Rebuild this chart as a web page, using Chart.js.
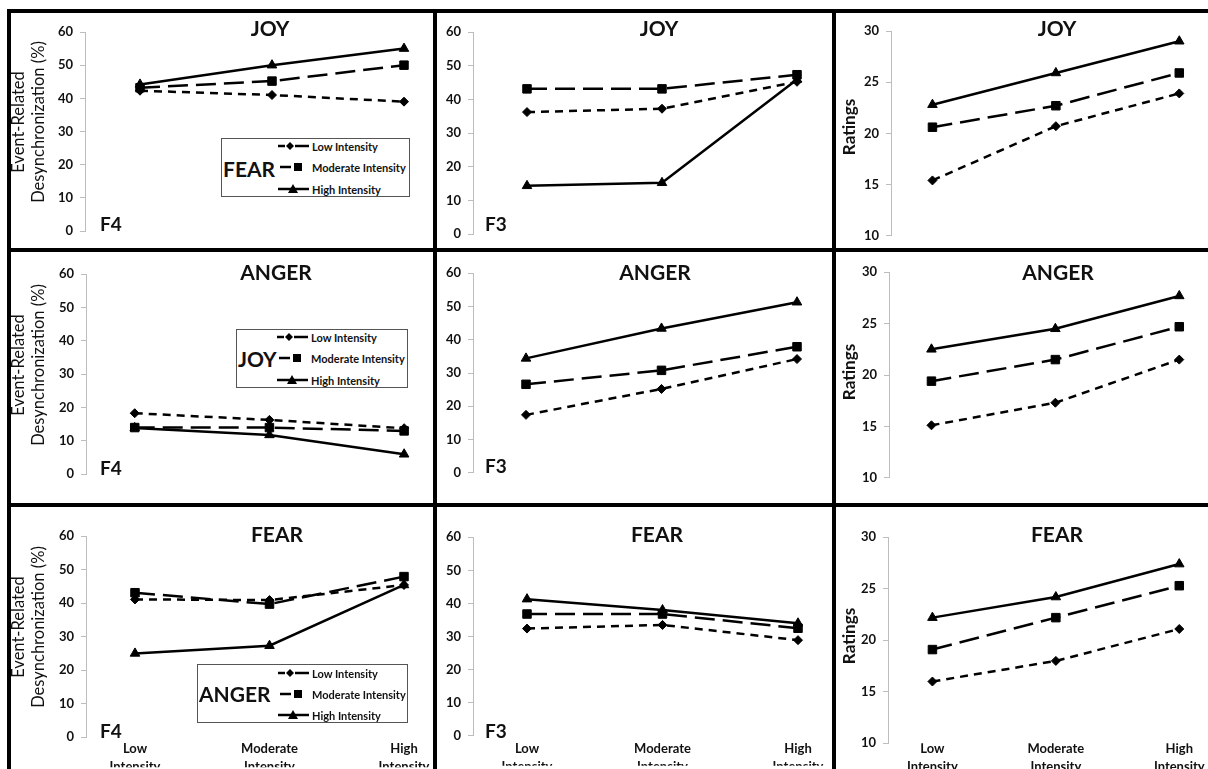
<!DOCTYPE html>
<html><head><meta charset="utf-8">
<script src="https://cdn.jsdelivr.net/npm/chart.js@4.4.1/dist/chart.umd.min.js"></script>
<style>
html,body{margin:0;padding:0;background:#fff;}
#page{position:relative;width:1208px;height:769px;overflow:hidden;font-family:Lato,'Open Sans',sans-serif;color:#111;background:#fff;}
.bar{position:absolute;background:#000;z-index:5;}
canvas{position:absolute;}
.ttl{position:absolute;font-weight:bold;font-size:21px;line-height:1;transform:translate(-50%,-50%);white-space:nowrap;z-index:3;}
.flab{position:absolute;font-weight:bold;font-size:19px;line-height:1;transform:translateY(-50%);z-index:3;}
.ytitle{position:absolute;transform:translate(-50%,-50%) rotate(-90deg);white-space:nowrap;text-align:center;z-index:3;}
.legbox{position:absolute;border:1px solid #555;background:#fff;box-sizing:border-box;z-index:3;}
.legword{position:absolute;font-weight:bold;font-size:21px;line-height:1;transform:translateY(-50%);z-index:4;}
.legtxt{position:absolute;font-weight:bold;font-size:11px;line-height:1;transform:translateY(-50%);white-space:nowrap;z-index:4;}
.legsvg{position:absolute;z-index:4;}
</style>
</head><body>
<div id="page"></div>
<script>
// ---------- DATA ----------
const categories = ['Low Intensity', 'Moderate Intensity', 'High Intensity'];
const seriesNames = ['Low Intensity', 'Moderate Intensity', 'High Intensity'];
const erdTicks = [0, 10, 20, 30, 40, 50, 60];
const ratingTicks = [10, 15, 20, 25, 30];

// Row 1: JOY
const joyF4Low  = [42.3, 41.0, 39.0];
const joyF4Mod  = [43.2, 45.2, 50.0];
const joyF4High = [44.2, 50.0, 55.0];
const joyF3Low  = [36.3, 37.3, 45.3];
const joyF3Mod  = [43.2, 43.2, 47.4];
const joyF3High = [14.4, 15.3, 46.0];
const joyRatLow  = [15.4, 20.7, 23.9];
const joyRatMod  = [20.6, 22.7, 25.9];
const joyRatHigh = [22.8, 25.9, 29.0];

// Row 2: ANGER
const angerF4Low  = [18.3, 16.3, 13.8];
const angerF4Mod  = [14.0, 14.0, 13.0];
const angerF4High = [13.9, 11.8, 6.0];
const angerF3Low  = [17.4, 25.2, 34.2];
const angerF3Mod  = [26.6, 30.8, 37.9];
const angerF3High = [34.4, 43.4, 51.3];
const angerRatLow  = [15.1, 17.3, 21.5];
const angerRatMod  = [19.4, 21.5, 24.7];
const angerRatHigh = [22.5, 24.5, 27.7];

// Row 3: FEAR
const fearF4Low  = [41.1, 40.9, 45.4];
const fearF4Mod  = [43.1, 39.7, 47.9];
const fearF4High = [25.0, 27.3, 45.4];
const fearF3Low  = [32.4, 33.5, 28.9];
const fearF3Mod  = [36.8, 36.8, 32.5];
const fearF3High = [41.3, 38.0, 34.0];
const fearRatLow  = [16.0, 18.0, 21.1];
const fearRatMod  = [19.1, 22.2, 25.3];
const fearRatHigh = [22.2, 24.2, 27.4];

const panelTitles = ['JOY', 'ANGER', 'FEAR'];
const legendWords = ['FEAR', 'JOY', 'ANGER'];
const electrodeLabels = ['F4', 'F3'];
const erdTitle = ['Event-Related', 'Desynchronization (%)'];
const ratingTitle = 'Ratings';

// ---------- LAYOUT ----------
const page = document.getElementById('page');
const FONT = "Lato, 'Open Sans', sans-serif";
const cols = [[11, 422], [437, 395], [836, 372]];
const rows = [[13, 235], [252, 251], [507, 262]];

const panels = [
  {r:0,c:0, axisX:85,  yTop:32,    yBot:231,   xLow:140, xHigh:404, scale:'erd', series:[joyF4Low, joyF4Mod, joyF4High]},
  {r:0,c:1, axisX:473, yTop:32.3,  yBot:234.3, xLow:527, xHigh:797, scale:'erd', series:[joyF3Low, joyF3Mod, joyF3High]},
  {r:0,c:2, axisX:891, yTop:31,    yBot:235.7, xLow:933, xHigh:1183, scale:'rat', series:[joyRatLow, joyRatMod, joyRatHigh]},
  {r:1,c:0, axisX:86,  yTop:274,   yBot:474.3, xLow:135, xHigh:406, scale:'erd', series:[angerF4Low, angerF4Mod, angerF4High]},
  {r:1,c:1, axisX:473, yTop:273.3, yBot:472.7, xLow:526, xHigh:797, scale:'erd', series:[angerF3Low, angerF3Mod, angerF3High]},
  {r:1,c:2, axisX:889, yTop:272.3, yBot:477.7, xLow:932, xHigh:1183, scale:'rat', series:[angerRatLow, angerRatMod, angerRatHigh]},
  {r:2,c:0, axisX:86,  yTop:536,   yBot:737.3, xLow:135, xHigh:404, scale:'erd', series:[fearF4Low, fearF4Mod, fearF4High]},
  {r:2,c:1, axisX:473, yTop:537.3, yBot:735.7, xLow:527, xHigh:798, scale:'erd', series:[fearF3Low, fearF3Mod, fearF3High]},
  {r:2,c:2, axisX:888, yTop:537.3, yBot:743.3, xLow:933, xHigh:1183, scale:'rat', series:[fearRatLow, fearRatMod, fearRatHigh]}
];

const styles = [
  {dash:[8,6],  pointStyle:'rectRot', radius:4.5},
  {dash:[20,8], pointStyle:'rect',    radius:6},
  {dash:[],     pointStyle:'triangle',radius:5.5}
];

const WY = 30;
const XLAB_CENTER = 747;   // page y of first x-label line
const XLAB_LH = 18;
panels.forEach(p => {
  const [cx, cw] = cols[p.c];
  const [cy, ch] = rows[p.r];
  const showX = p.r === 2;
  const HX = showX ? 30 : 0;
  const R = p.xHigh + 22;
  const s = (p.xHigh - p.xLow) / 2;
  const xMin = -(p.xLow - p.axisX) / s;
  const xMax = 2 + (R - p.xHigh) / s;
  const xPad = Math.round(XLAB_CENTER - p.yBot - XLAB_LH / 2 - 6);
  const cv = document.createElement('canvas');
  cv.width = cw; cv.height = ch;
  cv.style.left = cx + 'px'; cv.style.top = cy + 'px';
  cv.style.width = cw + 'px'; cv.style.height = ch + 'px';
  page.appendChild(cv);
  const ticksArr = p.scale === 'erd' ? erdTicks : ratingTicks;
  new Chart(cv.getContext('2d'), {
    type: 'line',
    data: {
      datasets: p.series.map((vals, i) => ({
        label: seriesNames[i],
        data: vals.map((v, j) => ({x: j, y: v})),
        borderColor: '#000',
        backgroundColor: '#000',
        borderWidth: 2.5,
        borderDash: styles[i].dash,
        pointStyle: styles[i].pointStyle,
        pointRadius: styles[i].radius,
        pointBackgroundColor: '#000',
        pointBorderColor: '#000',
        pointBorderWidth: 1,
        tension: 0,
        clip: false
      }))
    },
    options: {
      responsive: false,
      animation: false,
      devicePixelRatio: 1,
      events: [],
      layout: {padding: {left: p.axisX - cx - WY, top: p.yTop - cy, right: cx + cw - R, bottom: cy + ch - p.yBot - HX}},
      plugins: {legend: {display: false}, tooltip: {enabled: false}, title: {display: false}},
      scales: {
        x: {
          type: 'linear', min: xMin, max: xMax,
          grid: {display: false}, border: {display: false},
          afterBuildTicks: sc => { sc.ticks = categories.map((_, i) => ({value: i})); },
          afterFit: sc => { sc.height = HX; sc.paddingLeft = 0; sc.paddingRight = 0; },
          ticks: {
            display: showX, autoSkip: false, maxRotation: 0, minRotation: 0, padding: xPad,
            color: '#111', font: {family: FONT, weight: 'bold', size: 13, lineHeight: XLAB_LH / 13},
            callback: v => categories[Math.round(v)] ? categories[Math.round(v)].split(' ') : ''
          }
        },
        y: {
          type: 'linear', min: ticksArr[0], max: ticksArr[ticksArr.length - 1],
          afterBuildTicks: sc => { sc.ticks = ticksArr.map(v => ({value: v})); },
          afterFit: sc => { sc.width = WY; sc.paddingTop = 0; sc.paddingBottom = 0; },
          grid: {display: true, drawOnChartArea: false, drawTicks: true, tickLength: 5, color: '#bdbdbd', lineWidth: 1},
          border: {display: true, color: '#bdbdbd', width: 1},
          ticks: {padding: 7, color: '#111', font: {family: FONT, weight: 'bold', size: 13}}
        }
      }
    }
  });
});

function addDiv(cls, text, style) {
  const d = document.createElement('div');
  d.className = cls;
  if (Array.isArray(text)) d.innerHTML = text.map(t => '<div>' + t + '</div>').join('');
  else d.textContent = text;
  Object.assign(d.style, style);
  page.appendChild(d);
  return d;
}

// panel titles
const titlePos = [
  [[270,27],[659,27],[1057,27]],
  [[276,271],[655,271],[1058,271]],
  [[277,533],[657,533],[1057,533]]
];
titlePos.forEach((rowPos, r) => rowPos.forEach(([x, y]) => addDiv('ttl', panelTitles[r], {left: x + 'px', top: y + 'px'})));

// electrode labels
const fPos = [[100,223,0],[485,223,1],[100,467,0],[485,465,1],[100,730,0],[485,730,1]];
fPos.forEach(([x, y, k]) => addDiv('flab', electrodeLabels[k], {left: x + 'px', top: y + 'px'}));

// y titles
[122, 365, 627].forEach(y => addDiv('ytitle', erdTitle, {left: '28px', top: y + 'px', fontSize: '16.5px', lineHeight: '20px'}));
[127, 372, 636].forEach(y => addDiv('ytitle', ratingTitle, {left: '848px', top: y + 'px', fontSize: '17px', fontWeight: 'bold'}));

// legends
const legends = [
  {box:[221,138,189,59], wordX:223, wordY:168, rowsY:[146,167,189], sx:278, tx:312},
  {box:[236,329,172,59], wordX:238, wordY:358, rowsY:[337,358,380], sx:277, tx:311},
  {box:[197,664,211,59], wordX:199, wordY:693, rowsY:[673,694,715], sx:278, tx:312}
];
const sampleSvg = [
  '<line x1="0" y1="6" x2="7" y2="6" stroke="#000" stroke-width="2.5"/><polygon points="12,2 16,6 12,10 8,6" fill="#000"/><line x1="17" y1="6" x2="31" y2="6" stroke="#000" stroke-width="2.5"/>',
  '<line x1="2" y1="6" x2="13" y2="6" stroke="#000" stroke-width="2.5"/><rect x="16" y="2" width="8" height="8" fill="#000"/>',
  '<line x1="0" y1="6" x2="31" y2="6" stroke="#000" stroke-width="2.5"/><polygon points="15,1 20,10 10,10" fill="#000"/>'
];
legends.forEach((L, k) => {
  addDiv('legbox', '', {left: L.box[0] + 'px', top: L.box[1] + 'px', width: L.box[2] + 'px', height: L.box[3] + 'px'});
  addDiv('legword', legendWords[k], {left: L.wordX + 'px', top: L.wordY + 'px'});
  seriesNames.forEach((n, i) => {
    const sv = document.createElementNS('http://www.w3.org/2000/svg', 'svg');
    sv.setAttribute('width', '32'); sv.setAttribute('height', '12');
    sv.setAttribute('class', 'legsvg');
    sv.style.left = L.sx + 'px'; sv.style.top = (L.rowsY[i] - 6) + 'px';
    sv.innerHTML = sampleSvg[i];
    page.appendChild(sv);
    addDiv('legtxt', n, {left: L.tx + 'px', top: L.rowsY[i] + 'px'});
  });
});

// frame lines
const bars = [
  [7, 9, 1201, 4], [7, 248, 1201, 4], [7, 503, 1201, 4],
  [7, 9, 4, 760], [433, 9, 4, 760], [832, 9, 4, 760]
];
bars.forEach(([x, y, w, h]) => addDiv('bar', '', {left: x + 'px', top: y + 'px', width: w + 'px', height: h + 'px'}));
</script>
</body></html>
